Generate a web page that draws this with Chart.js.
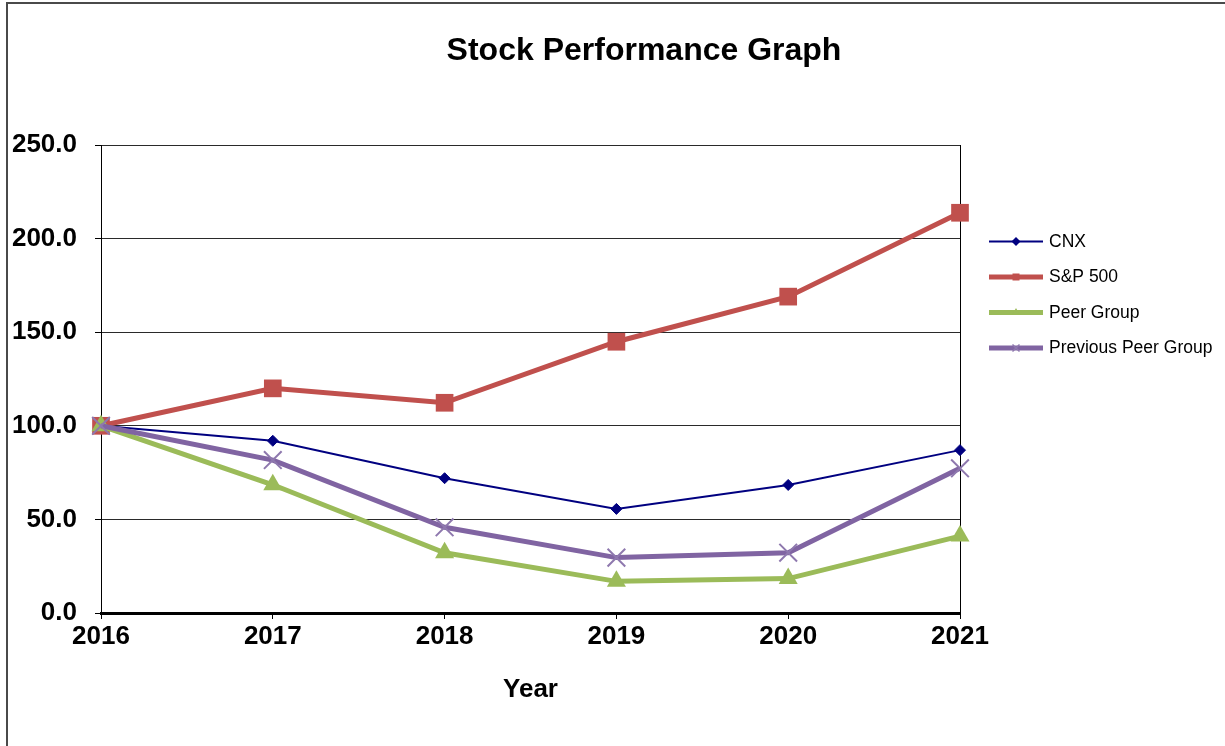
<!DOCTYPE html>
<html>
<head>
<meta charset="utf-8">
<script src="https://cdn.jsdelivr.net/npm/chart.js@4.4.1/dist/chart.umd.min.js"></script>
<style>
  html, body { margin: 0; padding: 0; background: #ffffff; }
  #wrap { position: relative; width: 1225px; height: 746px; overflow: hidden; }
  #frame { position: absolute; left: 6px; top: 2px; right: -4px; bottom: -4px;
           border-left: 2px solid #4a4a4a; border-top: 2px solid #4a4a4a; pointer-events: none; }
  canvas { position: absolute; left: 0; top: 0; }
</style>
</head>
<body>
<div id="wrap">
  <canvas id="c" width="1225" height="746"></canvas>
  <div id="frame"></div>
</div>
<script>
// ---- Data ----
const years = ['2016', '2017', '2018', '2019', '2020', '2021'];
const cnx = [100.0, 92.0, 72.0, 55.6, 68.4, 87.0];
const sp500 = [100.0, 120.0, 112.3, 144.9, 169.0, 213.8];
const peerGroup = [100.0, 68.5, 32.2, 16.9, 18.4, 41.1];
const previousPeerGroup = [100.0, 81.7, 45.8, 29.6, 32.2, 77.3];
const seriesNames = ['CNX', 'S&P 500', 'Peer Group', 'Previous Peer Group'];
const chartTitle = 'Stock Performance Graph';
const xAxisTitle = 'Year';
const yMin = 0, yMax = 250, yStep = 50;

const FONT = "'Liberation Sans', Arial, Helvetica, sans-serif";

// Title plugin
const titlePlugin = {
  id: 'customTitle',
  afterDraw(chart) {
    const ctx = chart.ctx;
    ctx.save();
    ctx.font = 'bold 32px ' + FONT;
    ctx.fillStyle = '#000';
    ctx.textAlign = 'center';
    ctx.textBaseline = 'middle';
    ctx.fillText(chartTitle, 644, 51);
    ctx.restore();
  }
};

function drawMarker(ctx, style, x, y, r, fill, stroke, lw) {
  ctx.save();
  ctx.fillStyle = fill; ctx.strokeStyle = stroke; ctx.lineWidth = lw;
  ctx.beginPath();
  if (style === 'rectRot') {
    ctx.moveTo(x, y - r); ctx.lineTo(x + r, y); ctx.lineTo(x, y + r); ctx.lineTo(x - r, y); ctx.closePath(); ctx.fill();
  } else if (style === 'rect') {
    ctx.rect(x - r, y - r, 2 * r, 2 * r); ctx.fill();
  } else if (style === 'triangle') {
    ctx.moveTo(x, y - r); ctx.lineTo(x + r * 0.866, y + r * 0.5); ctx.lineTo(x - r * 0.866, y + r * 0.5); ctx.closePath(); ctx.fill();
  } else if (style === 'crossRot') {
    ctx.moveTo(x - r, y - r); ctx.lineTo(x + r, y + r); ctx.moveTo(x + r, y - r); ctx.lineTo(x - r, y + r); ctx.stroke();
  }
  ctx.restore();
}

// Legend plugin (Excel-style line + marker samples)
const legendPlugin = {
  id: 'customLegend',
  afterDraw(chart) {
    const ctx = chart.ctx;
    const x0 = 989, x1 = 1043, tx = 1049;
    const ys = [241.5, 277, 312.5, 348];
    const small = [4.5, 3.5, 4.5, 3.5];
    chart.data.datasets.forEach((ds, i) => {
      const y = ys[i];
      ctx.save();
      ctx.strokeStyle = ds.borderColor;
      ctx.lineWidth = ds.borderWidth;
      ctx.beginPath(); ctx.moveTo(x0, y); ctx.lineTo(x1, y); ctx.stroke();
      ctx.restore();
      drawMarker(ctx, ds.pointStyle, (x0 + x1) / 2, y, small[i], ds.pointBackgroundColor, ds.pointBorderColor, 1.5);
      ctx.save();
      ctx.font = '17.5px ' + FONT;
      ctx.fillStyle = '#000';
      ctx.textAlign = 'left';
      ctx.textBaseline = 'middle';
      ctx.fillText(ds.label, tx, y + 0.5);
      ctx.restore();
    });
  }
};

const lastIdx = years.length - 1;

new Chart(document.getElementById('c'), {
  type: 'line',
  data: {
    labels: years,
    datasets: [
      { label: seriesNames[0], data: cnx, borderColor: '#000080', backgroundColor: '#000080',
        borderWidth: 2, pointStyle: 'rectRot', pointRadius: 5.5, pointBackgroundColor: '#000080',
        pointBorderColor: '#000080', pointBorderWidth: 1, order: 4, clip: false, tension: 0 },
      { label: seriesNames[1], data: sp500, borderColor: '#C0504D', backgroundColor: '#C0504D',
        borderWidth: 5, pointStyle: 'rect', pointRadius: 12.5, pointBackgroundColor: '#C0504D',
        pointBorderColor: '#C0504D', pointBorderWidth: 0, order: 3, clip: false, tension: 0 },
      { label: seriesNames[2], data: peerGroup, borderColor: '#9BBB59', backgroundColor: '#9BBB59',
        borderWidth: 5, pointStyle: 'triangle', pointRadius: 11, pointBackgroundColor: '#9BBB59',
        pointBorderColor: '#9BBB59', pointBorderWidth: 0, order: 2, clip: false, tension: 0 },
      { label: seriesNames[3], data: previousPeerGroup, borderColor: '#8064A2', backgroundColor: '#8064A2',
        borderWidth: 5, pointStyle: 'crossRot', pointRadius: 12.5, pointBackgroundColor: '#8E78AE',
        pointBorderColor: '#8E78AE', pointBorderWidth: 2, order: 1, clip: false, tension: 0 }
    ]
  },
  options: {
    responsive: false,
    animation: false,
    events: [],
    layout: { padding: { top: 145, right: 265, left: 0, bottom: 0 } },
    plugins: { legend: { display: false }, title: { display: false }, tooltip: { enabled: false } },
    scales: {
      x: {
        type: 'category',
        offset: false,
        afterFit(scale) { scale.height = 133; },
        grid: {
          display: true,
          drawOnChartArea: true,
          drawTicks: true,
          tickLength: 6,
          color: (c) => c.index === lastIdx ? '#000000' : 'rgba(0,0,0,0)',
          tickColor: '#000000',
          lineWidth: 1
        },
        border: { display: true, color: '#000000', width: 3 },
        ticks: {
          font: { family: FONT, size: 26, weight: 'bold', lineHeight: 1.2 },
          color: '#000000',
          padding: 2,
          maxRotation: 0,
          autoSkip: false
        },
        title: {
          display: true,
          text: xAxisTitle,
          color: '#000000',
          font: { family: FONT, size: 26, weight: 'bold', lineHeight: 1.2 },
          padding: { top: 0, bottom: 41 }
        }
      },
      y: {
        min: yMin,
        max: yMax,
        afterFit(scale) { scale.width = 101; },
        grid: {
          display: true,
          drawOnChartArea: true,
          drawTicks: true,
          tickLength: 6,
          color: '#2a2a2a',
          tickColor: '#000000',
          lineWidth: 1
        },
        border: { display: true, color: '#000000', width: 1 },
        ticks: {
          stepSize: yStep,
          font: { family: FONT, size: 26, weight: 'bold', lineHeight: 1.2 },
          color: '#000000',
          padding: 18,
          callback: (v) => Number(v).toFixed(1)
        }
      }
    }
  },
  plugins: [titlePlugin, legendPlugin]
});
</script>
</body>
</html>
